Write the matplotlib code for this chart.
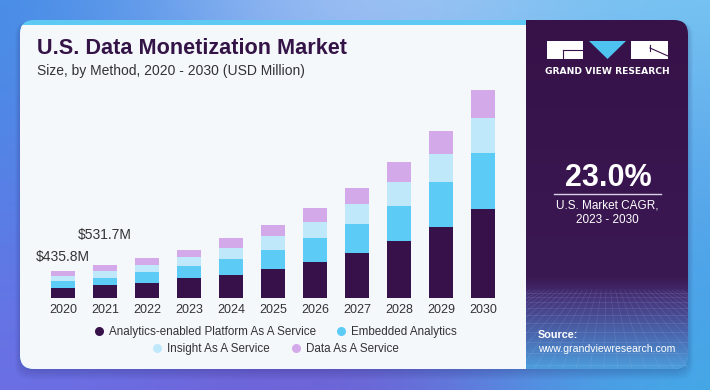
import numpy as np
import matplotlib.pyplot as plt
from matplotlib.patches import FancyBboxPatch, Rectangle, Polygon
from matplotlib.lines import Line2D
from matplotlib.colors import to_rgb

plt.rcParams['font.family'] = ['Liberation Sans', 'DejaVu Sans']

# data (USD million)
years = ["2020", "2021", "2022", "2023", "2024", "2025", "2026", "2027", "2028", "2029", "2030"]
platform = [164, 209.5, 240, 320, 373, 469, 576, 725, 912, 1136, 1424]
embedded = [106, 122.4, 181, 197, 256, 309, 389, 464, 570, 725, 901]
insight = [89, 108, 112, 144, 181, 219, 261, 315, 379, 453, 565]
data_service = [76.8, 91.8, 117, 112, 155, 171, 214, 266, 320, 368, 448]
series_names = ["Analytics-enabled Platform As A Service", "Embedded Analytics",
                "Insight As A Service", "Data As A Service"]
series_colors = ["#371149", "#5ccbf6", "#bfe9fa", "#d4a9ea"]
value_labels = {0: "$435.8M", 1: "$531.7M"}
cagr = "23.0%"

W, H = 710, 390


def px(x, y):
    """figure fraction from pixel position (origin top left)"""
    return x / W, 1 - y / H


def blend(anchors, w, h, sigma, step=5):
    yy, xx = np.mgrid[0:h:step, 0:w:step]
    num = np.zeros(xx.shape + (3,))
    den = np.zeros(xx.shape)
    for x, y, c in anchors:
        wgt = np.exp(-((xx - x) ** 2 + (yy - y) ** 2) / (2. * sigma ** 2))
        num += wgt[..., None] * np.array(to_rgb(c))
        den += wgt
    return num / den[..., None]


fig = plt.figure(figsize=(W / 100, H / 100), dpi=100)

# background
bg = fig.add_axes([0, 0, 1, 1])
bg.set_xlim(0, W)
bg.set_ylim(H, 0)
bg.axis('off')
anchors = [(0, 0, "#3a8fe6"), (330, 0, "#a9c8f6"), (710, 0, "#88dcf6"),
           (0, 200, "#4f82e6"), (710, 200, "#4b8ae8"),
           (0, 390, "#7c66e4"), (330, 390, "#6d58d2"), (710, 390, "#3cb8e6")]
bg.imshow(blend(anchors, W, H, 160), extent=(0, W, H, 0), aspect='auto',
          interpolation='bicubic', zorder=0)

# shadow + card
for k in range(6):
    sh = FancyBboxPatch((20 - k, 22 - k * 0.3), 668 + 2 * k, 349 + 2 * k,
                        boxstyle="round,pad=0,rounding_size=16",
                        facecolor="#1d1b5a", edgecolor='none', alpha=0.035, zorder=1)
    bg.add_patch(sh)
card = FancyBboxPatch((20, 20), 668, 349, boxstyle="round,pad=0,rounding_size=14",
                      facecolor="#5ec9f2", edgecolor='none', zorder=2)
bg.add_patch(card)
white = Rectangle((20, 25), 506, 344, facecolor="#f4f8fb", edgecolor='none', zorder=3)
bg.add_patch(white)
white.set_clip_path(card)

# right panel
rows = np.linspace(20, 369, 120)
stops_y = [20, 278, 300, 335, 369]
stops_c = [to_rgb(c) for c in ["#371249", "#3a1852", "#47357c", "#4a66ad", "#4d9cdb"]]
col = np.array([[np.interp(r, stops_y, [c[i] for c in stops_c]) for i in range(3)] for r in rows])
im = bg.imshow(col[:, None, :], extent=(526, 688, 369, 20), aspect='auto',
               interpolation='bilinear', zorder=4)
im.set_clip_path(card)

# perspective grid texture in the bottom of the panel
clip = Rectangle((526, 290), 162, 79, transform=bg.transData)
for yl in [293, 297, 302, 308, 315, 323, 332, 342, 353, 365]:
    ln = Line2D([526, 688], [yl, yl], color="#b9d4f5", lw=0.5, alpha=0.16, zorder=5)
    bg.add_line(ln)
    ln.set_clip_path(clip)
for xb in np.arange(380, 840, 14):
    ln = Line2D([607, xb], [250, 369], color="#b9d4f5", lw=0.5, alpha=0.15, zorder=5)
    bg.add_line(ln)
    ln.set_clip_path(clip)

# logo
bg.add_patch(Rectangle((547, 41), 36, 18, facecolor="white", zorder=6))
bg.add_patch(Polygon([(589, 41), (626, 41), (607.5, 59)], facecolor="#4ec3f0", zorder=6))
bg.add_patch(Rectangle((631, 41), 37, 18, facecolor="white", zorder=6))
bg.add_line(Line2D([563, 583], [50, 50], color="#371249", lw=0.8, zorder=7))
bg.add_line(Line2D([563, 563], [50, 59], color="#371249", lw=0.8, zorder=7))
bg.add_line(Line2D([650, 668], [48, 56], color="#371249", lw=0.8, zorder=7))
bg.add_line(Line2D([650, 650], [45, 51], color="#371249", lw=0.8, zorder=7))
fig.text(*px(607.5, 71), "GRAND VIEW RESEARCH", color="white", fontsize=6.6,
         fontweight='bold', family=['DejaVu Sans'], ha='center', va='center')

# CAGR block
fig.text(*px(608, 186), cagr, color="white", fontsize=22, fontweight='bold',
         ha='center', va='baseline')
bg.add_line(Line2D([554, 661], [193.5, 193.5], color="#d8d0e4", lw=1.0, zorder=7))
fig.text(*px(607.5, 205), "U.S. Market CAGR,", color="white", fontsize=8.5,
         ha='center', va='center')
fig.text(*px(607.5, 220), "2023 - 2030", color="white", fontsize=8.5,
         ha='center', va='center')
fig.text(*px(538, 335), "Source:", color="white", fontsize=7.8, fontweight='bold',
         ha='left', va='center')
fig.text(*px(538, 349.5), "www.grandviewresearch.com", color="white", fontsize=7.6,
         ha='left', va='center')

# titles
fig.text(*px(37, 54), "U.S. Data Monetization Market", color="#341347", fontsize=15.6,
         fontweight='bold', ha='left', va='baseline')
fig.text(*px(37, 75), "Size, by Method, 2020 - 2030 (USD Million)", color="#333333",
         fontsize=10, ha='left', va='baseline')

# stacked bars
base_y, top_y = 298.3, 80
ax = fig.add_axes([37 / W, (H - base_y) / H, (509 - 37) / W, (base_y - top_y) / H])
ax.patch.set_alpha(0)
x = np.arange(len(years))
bottom = np.zeros(len(years))
for vals, name, c in zip([platform, embedded, insight, data_service], series_names, series_colors):
    ax.bar(x, vals, 0.58, bottom=bottom, color=c, label=name, zorder=2)
    bottom += np.array(vals)
for i, txt in value_labels.items():
    off = 10 if i == 0 else 26
    ax.annotate(txt, (x[i], bottom[i]), xytext=(0, off), textcoords='offset pixels',
                ha='center', va='baseline', fontsize=10, color="#333333")
ax.set_xlim(-0.619, 10.624)
ax.set_ylim(0, (base_y - top_y) * 16)
ax.set_xticks(x)
ax.set_xticklabels(years, fontsize=9, color="#333333")
ax.tick_params(axis='x', length=0, pad=4)
ax.set_yticks([])
for s in ax.spines.values():
    s.set_visible(False)

# legend, two centred rows
handles = [Line2D([], [], marker='o', ls='none', markersize=6.5, markerfacecolor=c,
                  markeredgecolor='none') for c in series_colors]
kw = dict(loc='center', ncol=2, frameon=False, fontsize=8.4, handletextpad=0.35,
          columnspacing=1.7, handlelength=1.0, labelcolor="#333333")
leg1 = fig.legend(handles[:2], series_names[:2], bbox_to_anchor=px(275, 332), **kw)
leg2 = fig.legend(handles[2:], series_names[2:], bbox_to_anchor=px(275, 349), **kw)

fig.savefig("out.png", dpi=100)
